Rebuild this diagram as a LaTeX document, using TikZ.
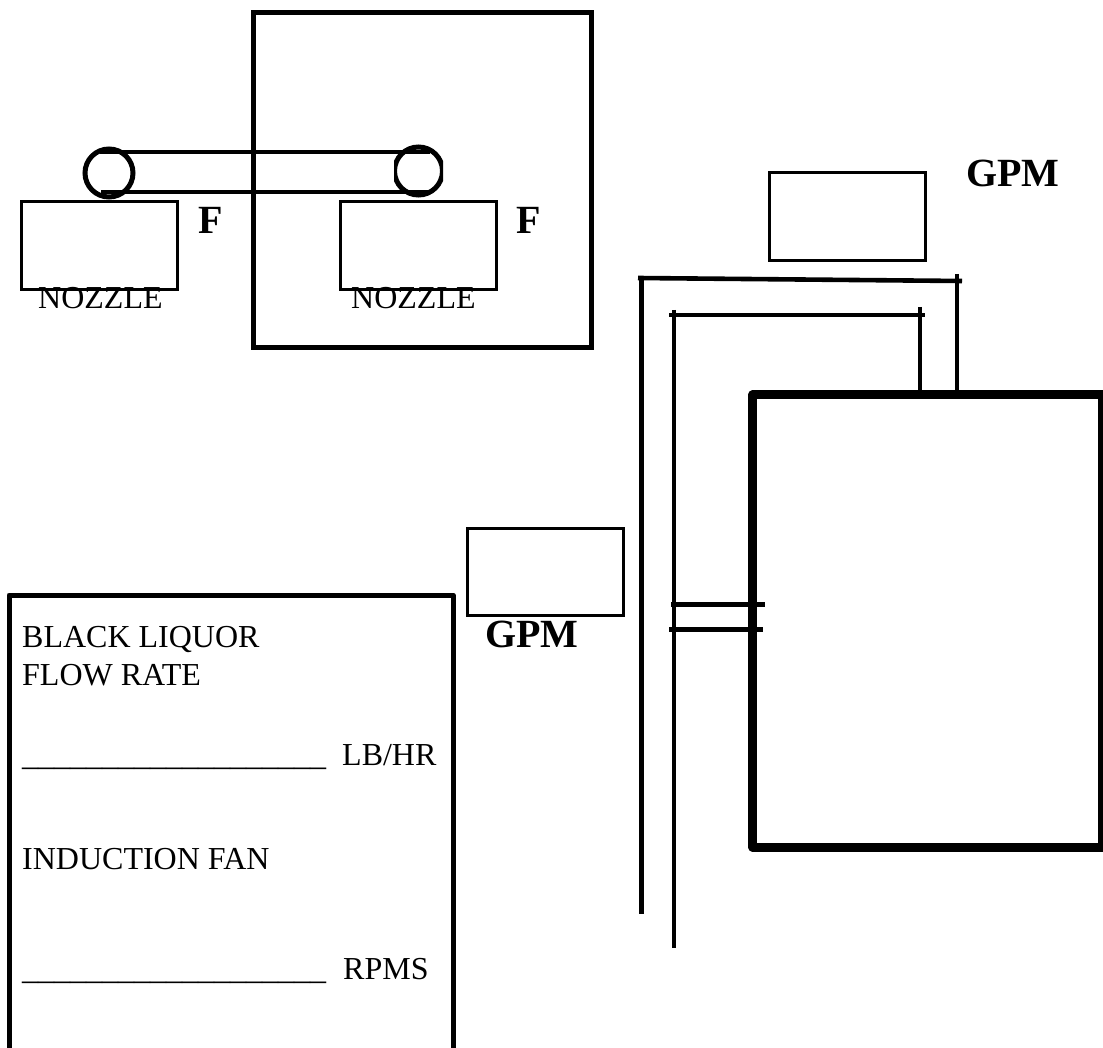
\documentclass[tikz,border=0pt]{standalone}
\usepackage{fontspec}
\setmainfont{Liberation Serif}
\begin{document}
\begin{tikzpicture}[x=1pt,y=-1pt,
  lbl/.style={inner sep=0pt,anchor=base west,font=\fontsize{32}{36}\selectfont},
  blbl/.style={inner sep=0pt,anchor=base west,font=\fontsize{40}{44}\bfseries\selectfont},
  thinbox/.style={draw,line width=3pt,inner sep=0pt,outer sep=0pt,minimum width=156pt,minimum height=87.5pt,anchor=north west},
  tube/.style={line width=4.5pt},
  pipe/.style={line width=4.6pt},
  wall/.style={line width=5pt,line join=round},
  ring/.style={draw,line width=5pt,circle,inner sep=0pt,outer sep=0pt,minimum size=48pt}]
\useasboundingbox (0,0) rectangle (1103,1048);
% top square
\node[draw,line width=5pt,inner sep=0pt,outer sep=0pt,minimum width=337.6pt,minimum height=335pt,anchor=north west] (chamber) at (253.7,12.3) {};
% tube loop
\node[ring] (cL) at (109,173) {};
\begin{scope}
\clip (394,140) rectangle (443,200);
\node[ring] (cR) at (418.5,171) {};
\end{scope}
\coordinate (t1) at (100,152); \coordinate (t2) at (430,152);
\coordinate (b1) at (101,192); \coordinate (b2) at (430,192);
\draw[tube] (t1) -- (t2);
\draw[tube] (b1) -- (b2);
% nozzle boxes
\node[thinbox] (nL) at (21.5,202) {};
\node[thinbox] (nR) at (340,202) {};
\node[lbl] (nozL) at (38,308.5) {NOZZLE};
\node[lbl] (nozR) at (351,308.5) {NOZZLE};
\node[blbl] (fL) at (198,234) {F};
\node[blbl] (fR) at (516,234) {F};
% gpm
\node[thinbox] (g1) at (769.7,172.7) {};
\node[blbl] (g1t) at (966,187) {GPM};
\node[thinbox] (g2) at (467.3,528.3) {};
\node[blbl] (g2t) at (485,647) {GPM};
% main vessel
\node[draw,line width=8.7pt,line join=round,inner sep=0pt,outer sep=0pt,minimum width=349.6pt,minimum height=452.6pt,anchor=north west] (vessel) at (752.7,394.7) {};
% pipes
\coordinate (p1a) at (641.7,278); \coordinate (p1b) at (641.7,914);
\coordinate (p1c) at (638,278); \coordinate (p1d) at (962,281);
\coordinate (p1e) at (957,274); \coordinate (p1f) at (957,393);
\coordinate (p2a) at (674,310); \coordinate (p2b) at (674,948);
\coordinate (p2c) at (669,315); \coordinate (p2d) at (925,315);
\coordinate (p2e) at (920,307); \coordinate (p2f) at (920,393);
\draw[pipe] (p1a) -- (p1b);
\draw[pipe] (p1c) -- (p1d);
\draw[pipe] (p1e) -- (p1f);
\draw[pipe] (p2a) -- (p2b);
\draw[pipe] (p2c) -- (p2d);
\draw[pipe] (p2e) -- (p2f);
\coordinate (k1a) at (671,604.5); \coordinate (k1b) at (765,604.5);
\coordinate (k2a) at (669,629.5); \coordinate (k2b) at (763,629.5);
\draw[line width=5pt] (k1a) -- (k1b);
\draw[line width=5pt] (k2a) -- (k2b);
% panel
\coordinate (pa) at (9,1060); \coordinate (pb) at (9,595);
\coordinate (pc) at (453,595); \coordinate (pd) at (453,1060);
\draw[wall] (pa) -- (pb) -- (pc) -- (pd);
\node[lbl] (t1a) at (22,647) {BLACK LIQUOR};
\node[lbl] (t1b) at (22,685) {FLOW RATE};
\node[lbl] (t2a) at (22,765) {\_\_\_\_\_\_\_\_\_\_\_\_\_\_\_\_\_\_\_};
\node[lbl] (t2b) at (342,765) {LB/HR};
\node[lbl] (t3) at (22,869) {INDUCTION FAN};
\node[lbl] (t4a) at (22,979) {\_\_\_\_\_\_\_\_\_\_\_\_\_\_\_\_\_\_\_};
\node[lbl] (t4b) at (343,979) {RPMS};
\end{tikzpicture}
\end{document}
